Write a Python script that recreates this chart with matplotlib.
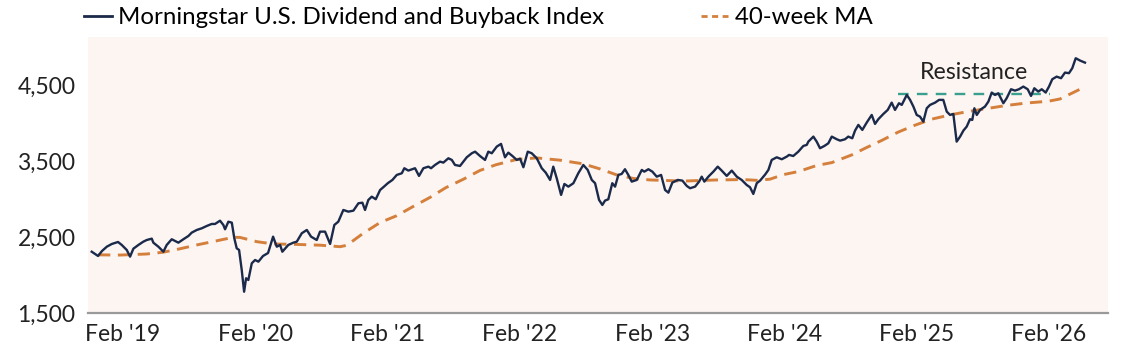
import matplotlib
matplotlib.use("Agg")
import matplotlib.pyplot as plt
from matplotlib.lines import Line2D

plt.rcParams['font.family'] = ['Lato', 'DejaVu Sans']

# ---- data (decimal-year position on the chart's time axis, index level) ----
index_t = [
    2018.848, 2018.896, 2018.926, 2018.962, 2019.000, 2019.047, 2019.075, 2019.113, 2019.138, 2019.163,
    2019.201, 2019.238, 2019.264, 2019.302, 2019.314, 2019.352, 2019.390, 2019.415, 2019.453, 2019.503,
    2019.541, 2019.579, 2019.604, 2019.642, 2019.680, 2019.718, 2019.755, 2019.780, 2019.818, 2019.843,
    2019.856, 2019.881, 2019.907, 2019.926, 2019.944, 2019.962, 2019.982, 2020.000, 2020.015, 2020.032,
    2020.058, 2020.083, 2020.108, 2020.143, 2020.181, 2020.219, 2020.247, 2020.272, 2020.289, 2020.334,
    2020.372, 2020.398, 2020.436, 2020.474, 2020.506, 2020.549, 2020.574, 2020.612, 2020.650, 2020.682,
    2020.712, 2020.750, 2020.788, 2020.826, 2020.864, 2020.894, 2020.914, 2020.939, 2020.965, 2020.995,
    2021.028, 2021.052, 2021.086, 2021.121, 2021.154, 2021.192, 2021.211, 2021.241, 2021.292, 2021.322,
    2021.355, 2021.393, 2021.413, 2021.443, 2021.481, 2021.506, 2021.544, 2021.570, 2021.594, 2021.632,
    2021.683, 2021.721, 2021.746, 2021.783, 2021.821, 2021.846, 2021.872, 2021.910, 2021.942, 2021.972,
    2021.997, 2022.028, 2022.061, 2022.086, 2022.111, 2022.144, 2022.174, 2022.212, 2022.250, 2022.280,
    2022.313, 2022.337, 2022.363, 2022.396, 2022.421, 2022.451, 2022.489, 2022.526, 2022.564, 2022.597,
    2022.628, 2022.653, 2022.683, 2022.708, 2022.728, 2022.753, 2022.783, 2022.804, 2022.829, 2022.854,
    2022.879, 2022.904, 2022.930, 2022.968, 2023.006, 2023.025, 2023.056, 2023.086, 2023.119, 2023.152,
    2023.182, 2023.207, 2023.237, 2023.278, 2023.313, 2023.346, 2023.371, 2023.409, 2023.439, 2023.459,
    2023.479, 2023.509, 2023.547, 2023.580, 2023.610, 2023.648, 2023.686, 2023.724, 2023.761, 2023.799,
    2023.824, 2023.849, 2023.875, 2023.900, 2023.938, 2023.963, 2023.988, 2024.026, 2024.064, 2024.102,
    2024.119, 2024.151, 2024.189, 2024.227, 2024.253, 2024.265, 2024.303, 2024.328, 2024.353, 2024.386,
    2024.416, 2024.442, 2024.480, 2024.505, 2024.542, 2024.567, 2024.597, 2024.618, 2024.643, 2024.673,
    2024.706, 2024.744, 2024.769, 2024.794, 2024.832, 2024.865, 2024.895, 2024.920, 2024.950, 2024.971,
    2025.009, 2025.034, 2025.059, 2025.084, 2025.109, 2025.134, 2025.160, 2025.185, 2025.223, 2025.253,
    2025.285, 2025.311, 2025.336, 2025.361, 2025.374, 2025.386, 2025.412, 2025.437, 2025.462, 2025.487,
    2025.504, 2025.520, 2025.538, 2025.563, 2025.600, 2025.626, 2025.651, 2025.676, 2025.701, 2025.739,
    2025.764, 2025.797, 2025.827, 2025.857, 2025.890, 2025.923, 2025.948, 2025.973, 2026.003, 2026.029,
    2026.059, 2026.084, 2026.109, 2026.142, 2026.175, 2026.205, 2026.235, 2026.260, 2026.286, 2026.319,
    2026.356,
]
index_values = [
    2306, 2250, 2316, 2372, 2408, 2434, 2395, 2329, 2241, 2346,
    2395, 2438, 2460, 2478, 2425, 2372, 2306, 2395, 2470, 2425,
    2470, 2513, 2557, 2592, 2614, 2645, 2671, 2671, 2714, 2658,
    2601, 2701, 2688, 2483, 2351, 2329, 2066, 1780, 1957, 1934,
    2154, 2197, 2175, 2250, 2289, 2504, 2372, 2395, 2306, 2395,
    2425, 2438, 2549, 2592, 2504, 2460, 2570, 2570, 2408, 2658,
    2701, 2855, 2833, 2846, 2943, 2951, 2855, 2987, 3030, 2996,
    3118, 3154, 3207, 3250, 3316, 3338, 3404, 3373, 3404, 3303,
    3404, 3425, 3404, 3447, 3491, 3478, 3535, 3513, 3447, 3434,
    3548, 3601, 3622, 3565, 3513, 3622, 3601, 3689, 3724, 3548,
    3609, 3565, 3513, 3530, 3417, 3622, 3601, 3535, 3404, 3346,
    3250, 3425, 3272, 3053, 3197, 3162, 3207, 3338, 3447, 3382,
    3250, 3207, 2987, 2921, 2978, 2996, 3207, 3162, 3316, 3329,
    3391, 3316, 3228, 3250, 3382, 3359, 3391, 3359, 3293, 3316,
    3118, 3083, 3215, 3250, 3241, 3171, 3141, 3162, 3228, 3293,
    3228, 3293, 3359, 3425, 3373, 3303, 3373, 3293, 3250, 3184,
    3154, 3066, 3207, 3241, 3320, 3382, 3513, 3548, 3522, 3557,
    3579, 3565, 3622, 3697, 3711, 3754, 3820, 3754, 3667, 3697,
    3732, 3820, 3785, 3767, 3785, 3820, 3798, 3899, 3974, 3908,
    4004, 4105, 3987, 4049, 4118, 4171, 4267, 4171, 4259, 4237,
    4368, 4303, 4215, 4105, 4083, 4017, 4193, 4237, 4267, 4303,
    4303, 4149, 4105, 4118, 3930, 3754, 3820, 3899, 3952, 4049,
    4039, 4193, 4105, 4171, 4215, 4281, 4399, 4368, 4390, 4259,
    4325, 4443, 4425, 4443, 4478, 4443, 4355, 4456, 4412, 4443,
    4399, 4478, 4575, 4609, 4588, 4662, 4654, 4720, 4851, 4820,
    4793,
]

ma_t = [
    2018.896, 2019.062, 2019.264, 2019.390, 2019.516, 2019.642, 2019.780, 2019.919, 2019.969, 2020.096,
    2020.221, 2020.398, 2020.574, 2020.725, 2020.776, 2020.901, 2021.028, 2021.154, 2021.277, 2021.405,
    2021.526, 2021.657, 2021.783, 2021.904, 2022.061, 2022.212, 2022.388, 2022.564, 2022.690, 2022.817,
    2022.942, 2023.068, 2023.320, 2023.573, 2023.774, 2023.875, 2023.975, 2024.076, 2024.189, 2024.328,
    2024.442, 2024.593, 2024.694, 2024.820, 2024.945, 2025.071, 2025.198, 2025.349, 2025.474, 2025.600,
    2025.764, 2025.916, 2026.079, 2026.167, 2026.256, 2026.356,
]
ma_values = [
    2265, 2262, 2276, 2300, 2345, 2395, 2445, 2496, 2494, 2438,
    2408, 2402, 2392, 2372, 2390, 2549, 2690, 2780, 2900, 3020,
    3150, 3259, 3375, 3450, 3520, 3540, 3510, 3461, 3395, 3316,
    3270, 3250, 3235, 3250, 3255, 3245, 3260, 3320, 3360, 3440,
    3478, 3579, 3667, 3770, 3880, 3970, 4050, 4110, 4150, 4185,
    4230, 4262, 4285, 4315, 4390, 4475,
]

resistance_level = 4375
resistance_span = [2024.943, 2026.092]

tick_years = [2019, 2020, 2021, 2022, 2023, 2024, 2025, 2026]
tick_labels = ["Feb '19", "Feb '20", "Feb '21", "Feb '22", "Feb '23", "Feb '24", "Feb '25", "Feb '26"]
y_ticks = [1500, 2500, 3500, 4500]
y_labels = ["1,500", "2,500", "3,500", "4,500"]

# ---- styling ----
NAVY = "#1b2a4a"
ORANGE = "#d4803c"
TEAL = "#3a9f8e"
BG = "#fcf5f2"

W, H = 1133, 355
fig = plt.figure(figsize=(W / 100, H / 100), dpi=100)
ax = fig.add_axes([88 / W, 1 - 313 / H, (1108 - 88) / W, (313 - 37) / H])
ax.set_facecolor(BG)

ax.plot(ma_t, ma_values, color=ORANGE, lw=2.1, ls=(0, (4.2, 2.6)), zorder=2)
ax.plot(resistance_span, [resistance_level, resistance_level], color=TEAL, lw=1.7,
        ls=(0, (4.5, 3.5)), zorder=3)
ax.plot(index_t, index_values, color=NAVY, lw=1.7, zorder=4, solid_joinstyle='round')

ax.text(2025.517, 4658, "Resistance", ha="center", va="center", fontsize=16.7, color="#222222")

ax.set_xlim(2018.82, 2026.53)
ax.set_ylim(1500, 5130)
ax.set_xticks([y + 31 / 365.25 for y in tick_years])
ax.set_xticklabels(tick_labels)
ax.set_yticks(y_ticks)
ax.set_yticklabels(y_labels)
ax.tick_params(axis="both", length=0, labelsize=16.5, colors="#222222")
ax.tick_params(axis="x", pad=8)
ax.tick_params(axis="y", pad=9)
for s in ["top", "right", "left"]:
    ax.spines[s].set_visible(False)
ax.spines["bottom"].set_color("#9a9a9a")
ax.spines["bottom"].set_linewidth(1.6)

handles = [
    Line2D([], [], color=NAVY, lw=2.0),
    Line2D([], [], color=ORANGE, lw=2.0, ls=(0, (2.2, 1.6))),
]
labels = ["Morningstar U.S. Dividend and Buyback Index", "40-week MA"]
fig.legend(handles, labels, loc="center left", bbox_to_anchor=(84 / W, 1 - 18 / H),
           ncol=2, frameon=False, fontsize=17.3, handlelength=1.15, handletextpad=0.28,
           columnspacing=4.0, borderaxespad=0, borderpad=0)

fig.savefig("out.png", dpi=100, facecolor="white")
